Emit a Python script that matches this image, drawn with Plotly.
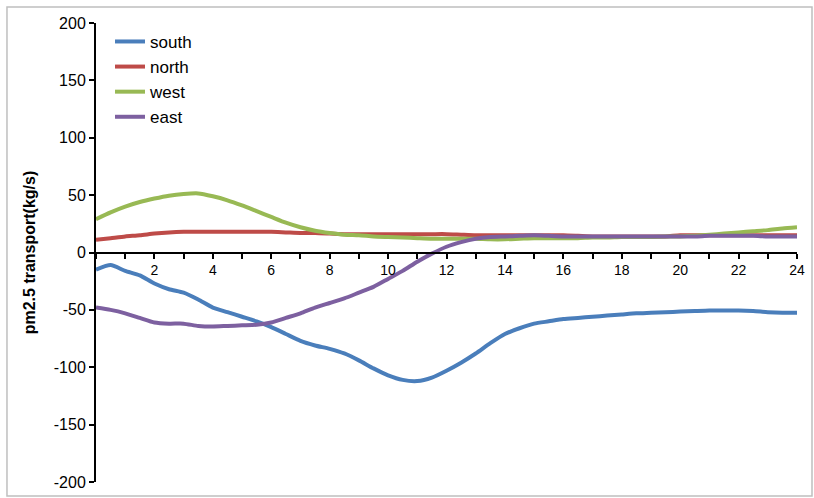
import plotly.graph_objects as go

# hourly sampling (every half hour), 0-24 h
hours = [i * 0.5 for i in range(49)]

south = [-15, -11, -16, -20, -27, -32, -35, -41, -48, -52, -56, -60, -65, -71, -77, -81,
         -84, -88, -94, -101, -107, -111, -112, -109, -103, -96, -88, -79, -71, -66, -62,
         -60, -58, -57, -56, -55, -54, -53, -52.5, -52, -51.5, -51, -50.5, -50.5, -50.5,
         -51, -52, -52.5, -52.5]
north = [11, 12.5, 14, 15, 16.5, 17.5, 18, 18, 18, 18, 18, 18, 18, 17.5, 17, 17,
         16.5, 16, 16, 16, 16, 16, 16, 16, 16, 15.5, 15, 15, 15, 15, 15, 15, 15,
         14.5, 14, 14, 14, 14, 14, 14, 15, 15, 15, 15, 15, 15, 15, 15, 15]
west = [29, 35, 40, 44, 47, 49.5, 51, 51.5, 49, 45.5, 41, 36, 31, 26, 22, 19,
        17, 15.5, 15, 14, 13.5, 13, 12.5, 12, 12, 12, 12, 11.5, 11.5, 12, 12.5, 12.5,
        12.5, 12.5, 13, 13, 13.5, 13.5, 13.5, 14, 14, 14.5, 15.5, 16.5, 17.5, 18.5,
        19.5, 21, 22]
east = [-48, -50, -53, -57, -61, -62, -62, -64, -64.5, -64, -63.5, -63, -61, -57, -53,
        -48, -44, -40, -35, -30, -23, -16, -8, -1, 5, 9, 12, 13.5, 14, 14.5, 15, 14.5,
        14, 14, 14, 14, 14, 14, 14, 14, 14, 14, 14.5, 14.5, 14.5, 14.5, 14, 14, 14]

series = [
    ("south", south, "#4A7EBB"),
    ("north", north, "#BE4B48"),
    ("west", west, "#98B954"),
    ("east", east, "#7D60A0"),
]

x_tick_vals = list(range(2, 25, 2))
y_tick_vals = list(range(-200, 201, 50))
y_tick_text = [str(v) for v in y_tick_vals]  # plain hyphen-minus

fig = go.Figure()
for name, vals, color in series:
    fig.add_trace(go.Scatter(
        x=hours, y=vals, name=name, mode="lines",
        line=dict(color=color, width=4, shape="spline", smoothing=0.6),
    ))

axis_font = dict(family="Liberation Sans, Arial, sans-serif", size=16, color="#000000")

fig.update_layout(
    width=814, height=498,
    margin=dict(l=96, r=17, t=23, b=16),
    paper_bgcolor="white", plot_bgcolor="white",
    showlegend=True,
    legend=dict(
        x=0.02, y=0.998, xanchor="left", yanchor="top",
        bgcolor="rgba(0,0,0,0)", itemwidth=30,
        font=dict(family="Liberation Sans, Arial, sans-serif", size=17, color="#000000"),
        tracegroupgap=0,
    ),
    xaxis=dict(
        range=[0, 24], anchor="free", position=0.5, automargin=False,
        tickvals=x_tick_vals, ticktext=[str(v) for v in x_tick_vals],
        ticks="outside", ticklen=5, tickwidth=1.5, tickcolor="black",
        minor=dict(dtick=1, tick0=0, ticks="outside", ticklen=5, tickwidth=1.5,
                   tickcolor="black", showgrid=False),
        showline=True, linecolor="black", linewidth=2,
        showgrid=False, zeroline=False,
        tickfont=dict(family="Liberation Sans Narrow, Liberation Sans, Arial", size=14,
                      color="#000000"),
    ),
    yaxis=dict(
        range=[-200, 200], tickvals=y_tick_vals, ticktext=y_tick_text,
        automargin=False,
        ticks="outside", ticklen=5, tickwidth=1.5, tickcolor="black",
        showline=True, linecolor="black", linewidth=2,
        showgrid=False, zeroline=False,
        tickfont=axis_font,
        title=dict(text="<b>pm2.5 transport(kg/s)</b>", standoff=14,
                   font=dict(family="Liberation Sans, Arial, sans-serif", size=16,
                             color="#000000")),
    ),
)

# light grey frame around the whole chart
fig.add_shape(type="rect", xref="paper", yref="paper",
              x0=-0.127, x1=1.0214, y0=-0.0305, y1=1.035,
              line=dict(color="#BFBFBF", width=1.5), layer="below")

fig.write_html("out.html")
